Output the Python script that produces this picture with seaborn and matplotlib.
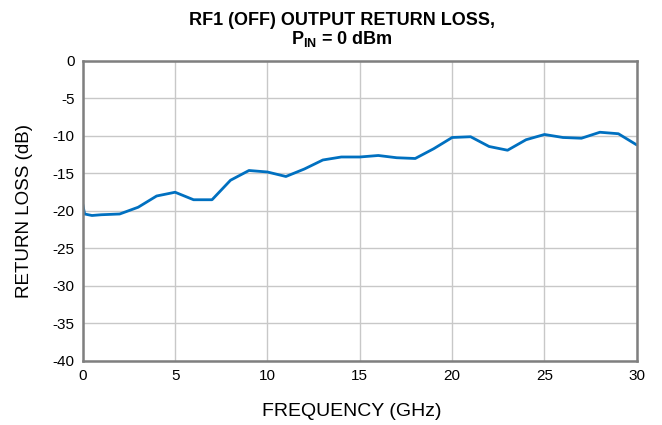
import matplotlib
matplotlib.use('Agg')
import matplotlib.pyplot as plt
import seaborn as sns
import pandas as pd

# RF1 (off) output return loss vs frequency
freq_ghz = [0, 0.1, 0.5, 1, 2, 3, 4, 5, 6, 7, 8, 9, 10, 11, 12, 13, 14, 15,
            16, 17, 18, 19, 20, 21, 22, 23, 24, 25, 26, 27, 28, 29, 30]
return_loss_db = [-19.1, -20.4, -20.6, -20.5, -20.4, -19.5, -18.0, -17.5, -18.5, -18.5,
                  -15.9, -14.6, -14.8, -15.4, -14.4, -13.2, -12.8, -12.8,
                  -12.6, -12.9, -13.0, -11.7, -10.2, -10.1, -11.4, -11.9, -10.5,
                  -9.8, -10.2, -10.3, -9.5, -9.7, -11.2]
x_ticks = [0, 5, 10, 15, 20, 25, 30]
y_ticks = [0, -5, -10, -15, -20, -25, -30, -35, -40]

df = pd.DataFrame({'freq': freq_ghz, 'rl': return_loss_db})

sns.set_style('white')
plt.rcParams['font.family'] = ['Liberation Sans', 'DejaVu Sans']
plt.rcParams['axes.unicode_minus'] = False
plt.rcParams['mathtext.fontset'] = 'custom'
plt.rcParams['mathtext.rm'] = 'Liberation Sans'
plt.rcParams['mathtext.bf'] = 'Liberation Sans:bold'
plt.rcParams['text.color'] = 'black'
plt.rcParams['axes.labelcolor'] = 'black'
plt.rcParams['xtick.color'] = 'black'
plt.rcParams['ytick.color'] = 'black'

fig = plt.figure(figsize=(6.62, 4.25), dpi=100)
ax = fig.add_axes([0.125, 0.1506, 0.837, 0.7059])

sns.lineplot(data=df, x='freq', y='rl', ax=ax, color='#0070C0', linewidth=2)

ax.set_xlim(0, 30)
ax.set_ylim(-40, 0)
ax.set_xticks(x_ticks)
ax.set_yticks(y_ticks)
ax.grid(True, color='#C8C8C8', linewidth=1)
for s in ax.spines.values():
    s.set_color('#7F7F7F')
    s.set_linewidth(1.8)
ax.tick_params(axis='both', labelsize=11, length=0, pad=6)

ax.set_xlabel('FREQUENCY (GHz)', fontsize=14, labelpad=14)
ax.xaxis.label.set_x(0.486)
ax.set_ylabel('RETURN LOSS (dB)', fontsize=13.5, labelpad=14)
ax.set_title('RF1 (OFF) OUTPUT RETURN LOSS,\nP$_{\\mathbf{IN}}$ = 0 dBm',
             fontsize=13, fontweight='bold', pad=12, linespacing=1.0, x=0.4675)

fig.savefig('out.png', dpi=100)
